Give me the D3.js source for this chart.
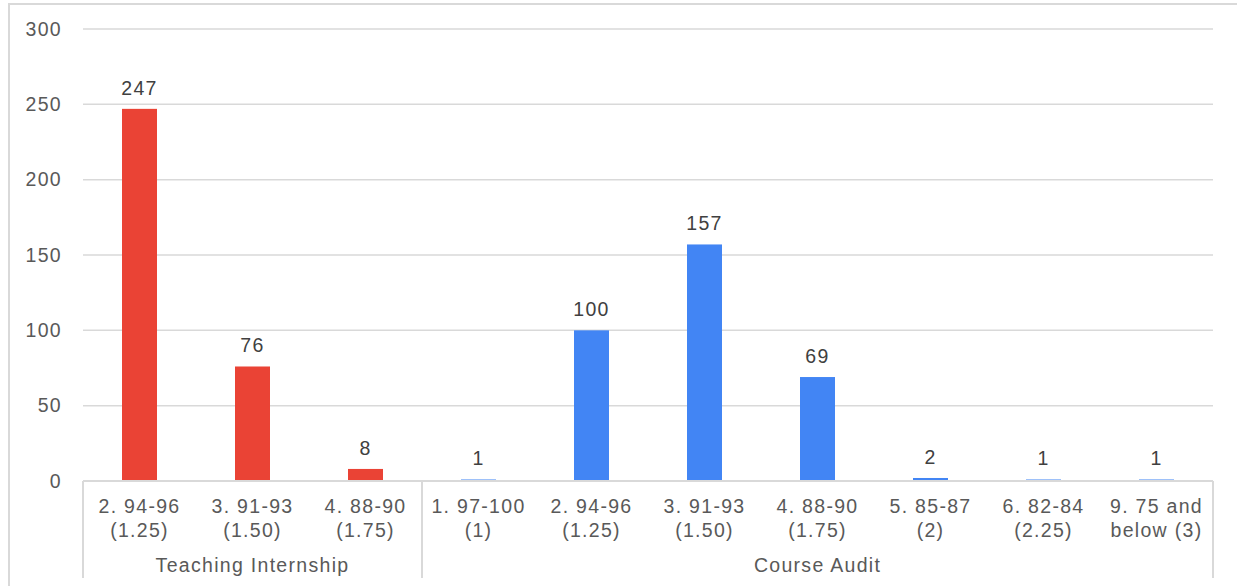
<!DOCTYPE html>
<html>
<head>
<meta charset="utf-8">
<script src="https://cdn.jsdelivr.net/npm/d3@7"></script>
<style>
  body { margin: 0; background: #fff; }
  text { font-family: "Liberation Sans", Arial, sans-serif; }
</style>
</head>
<body>
<div id="chart"></div>
<script>
// data
const groups = ["Teaching Internship", "Course Audit"];
const categories = [
    ["2. 94-96", "(1.25)"], ["3. 91-93", "(1.50)"], ["4. 88-90", "(1.75)"],
    ["1. 97-100", "(1)"], ["2. 94-96", "(1.25)"], ["3. 91-93", "(1.50)"],
    ["4. 88-90", "(1.75)"], ["5. 85-87", "(2)"], ["6. 82-84", "(2.25)"],
    ["9. 75 and", "below (3)"]
];
const categoryGroup = [0, 0, 0, 1, 1, 1, 1, 1, 1, 1];
const values = [247, 76, 8, 1, 100, 157, 69, 2, 1, 1];
const yTicks = [0, 50, 100, 150, 200, 250, 300];
const colors = ["#ea4335", "#4285f4"];

const W = 1237, H = 586;
const margin = {top: 29, right: 24, bottom: 105, left: 83};
const width = W - margin.left - margin.right;
const height = H - margin.top - margin.bottom;
const fs = 19.5, ls = 1.3;

const svg = d3.select("#chart").append("svg")
    .attr("width", W)
    .attr("height", H);

// outer frame
svg.append("rect")
    .attr("x", 9).attr("y", 4)
    .attr("width", W).attr("height", H)
    .attr("fill", "none")
    .attr("stroke", "#d9d9d9")
    .attr("stroke-width", 2);

const g = svg.append("g")
    .attr("transform", "translate(" + margin.left + "," + margin.top + ")");

const xScale = d3.scaleBand().domain(d3.range(categories.length)).range([0, width]).padding(0);
const yScale = d3.scaleLinear().domain([0, 300]).range([height, 0]);

// gridlines
g.append("g")
    .selectAll("line")
    .data(yTicks.filter(d => d > 0))
    .enter().append("line")
    .attr("x1", 0).attr("x2", width)
    .attr("y1", d => yScale(d)).attr("y2", d => yScale(d))
    .attr("stroke", "#d9d9d9")
    .attr("stroke-width", 1.5);

// y axis labels
const yAxis = g.append("g")
    .call(d3.axisLeft(yScale).tickValues(yTicks).tickSize(0).tickPadding(21));
yAxis.select(".domain").remove();
yAxis.selectAll("text")
    .attr("font-size", fs)
    .attr("letter-spacing", ls)
    .attr("fill", "#595959")
    .style("font-family", "'Liberation Sans', Arial, sans-serif");

// bars
const barW = 35;
g.selectAll(".bar")
    .data(values)
    .enter().append("rect")
    .attr("class", "bar")
    .attr("x", (d, i) => xScale(i) + xScale.bandwidth() / 2 - barW / 2)
    .attr("y", d => yScale(d))
    .attr("width", barW)
    .attr("height", d => height - yScale(d))
    .attr("fill", (d, i) => colors[categoryGroup[i]]);

// value labels
g.selectAll(".val")
    .data(values)
    .enter().append("text")
    .attr("class", "val")
    .attr("x", (d, i) => xScale(i) + xScale.bandwidth() / 2)
    .attr("y", d => yScale(d) - 14)
    .attr("text-anchor", "middle")
    .attr("font-size", fs)
    .attr("letter-spacing", ls)
    .attr("fill", "#404040")
    .text(d => d);

// baseline
g.append("line")
    .attr("x1", 0).attr("x2", width)
    .attr("y1", height).attr("y2", height)
    .attr("stroke", "#d9d9d9")
    .attr("stroke-width", 2);

// category labels
const catG = g.selectAll(".cat")
    .data(categories)
    .enter().append("text")
    .attr("class", "cat")
    .attr("text-anchor", "middle")
    .attr("font-size", fs)
    .attr("fill", "#595959")
    .attr("letter-spacing", ls);
catG.append("tspan")
    .attr("x", (d, i) => xScale(i) + xScale.bandwidth() / 2)
    .attr("y", height + 32)
    .text(d => d[0]);
catG.append("tspan")
    .attr("x", (d, i) => xScale(i) + xScale.bandwidth() / 2)
    .attr("y", height + 56)
    .text(d => d[1]);

// group separators and labels
const groupRanges = groups.map((name, gi) => {
    const idx = categoryGroup.map((c, i) => c === gi ? i : -1).filter(i => i >= 0);
    return {name: name, x0: xScale(idx[0]), x1: xScale(idx[idx.length - 1]) + xScale.bandwidth()};
});
const seps = [0].concat(groupRanges.map(r => r.x1));
g.selectAll(".sep")
    .data(seps)
    .enter().append("line")
    .attr("x1", d => d).attr("x2", d => d)
    .attr("y1", height).attr("y2", height + 97)
    .attr("stroke", "#d9d9d9")
    .attr("stroke-width", 2);

g.selectAll(".grp")
    .data(groupRanges)
    .enter().append("text")
    .attr("x", d => (d.x0 + d.x1) / 2)
    .attr("y", height + 91)
    .attr("text-anchor", "middle")
    .attr("font-size", fs)
    .attr("fill", "#595959")
    .attr("letter-spacing", ls)
    .text(d => d.name);
</script>
</body>
</html>
